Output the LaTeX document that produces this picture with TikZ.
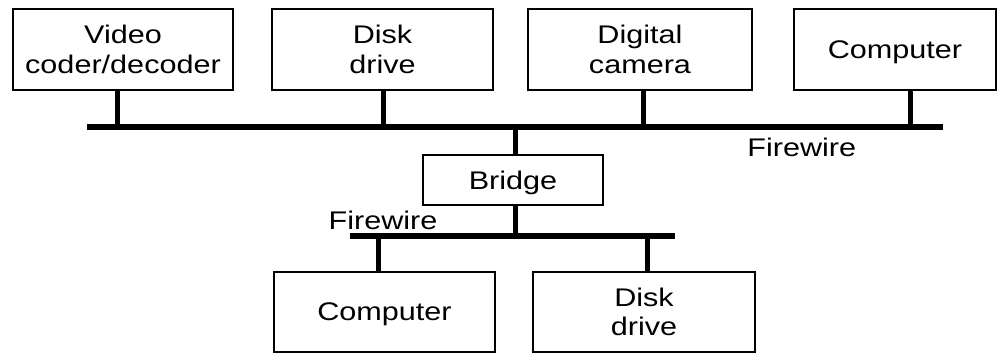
\documentclass[tikz,border=0pt]{standalone}
\usepackage{fontspec}
\setmainfont{Liberation Sans}[FakeStretch=1.2]
\usepackage{tikz}

\tikzset{
  unit/.style={draw, line width=1.4pt, align=center, inner sep=0pt, text depth=0pt,
    font=\fontsize{25.5}{29.5}\selectfont},
  bus/.style={line width=6.5pt},
  stub/.style={line width=5pt},
}

\begin{document}
\begin{tikzpicture}[x=1pt,y=-1pt]
  \useasboundingbox (0,0) rectangle (1002,354);
  % devices on the upper bus
  \node[unit, minimum width=220pt, minimum height=81pt] (coder) at (123,49.5) {Video\\coder/decoder};
  \node[unit, minimum width=221pt, minimum height=81pt] (disk) at (382.5,49.5) {Disk\\drive};
  \node[unit, minimum width=224pt, minimum height=81pt] (camera) at (640,49.5) {Digital\\camera};
  \node[unit, minimum width=202pt, minimum height=81pt] (comp) at (895,49.5) {Computer};
  % bridge between the two buses
  \node[unit, minimum width=180pt, minimum height=50pt] (bridge) at (513,180) {Bridge};
  % devices on the lower bus
  \node[unit, minimum width=221pt, minimum height=80pt] (lcomp) at (384.5,312) {Computer};
  \node[unit, minimum width=222pt, minimum height=80pt] (ldisk) at (644,312) {Disk\\drive};

  % upper firewire bus
  \coordinate (topL) at (87,127);
  \coordinate (topR) at (943,127);
  \draw[bus] (topL) -- (topR) node[pos=0.835, below=4pt, font=\fontsize{25.5}{29.5}\selectfont] (fwtop) {Firewire};
  \draw[stub] (coder.south -| 117,0) -- (117,127);
  \draw[stub] (disk.south -| 383,0) -- (383,127);
  \draw[stub] (camera.south -| 643,0) -- (643,127);
  \draw[stub] (comp.south -| 910,0) -- (910,127);
  \draw[stub] (bridge.north -| 515,0) -- (515,127);

  % lower firewire bus
  \coordinate (lowL) at (350,236);
  \coordinate (lowR) at (675,236);
  \draw[bus, line width=5.5pt] (lowL) -- (lowR);
  \node[font=\fontsize{25.5}{29.5}\selectfont] (fwlow) at (383,220) {Firewire};
  \draw[stub] (bridge.south -| 515,0) -- (515,236);
  \draw[stub] (lcomp.north -| 378,0) -- (378,236);
  \draw[stub] (ldisk.north -| 647,0) -- (647,236);
\end{tikzpicture}
\end{document}
